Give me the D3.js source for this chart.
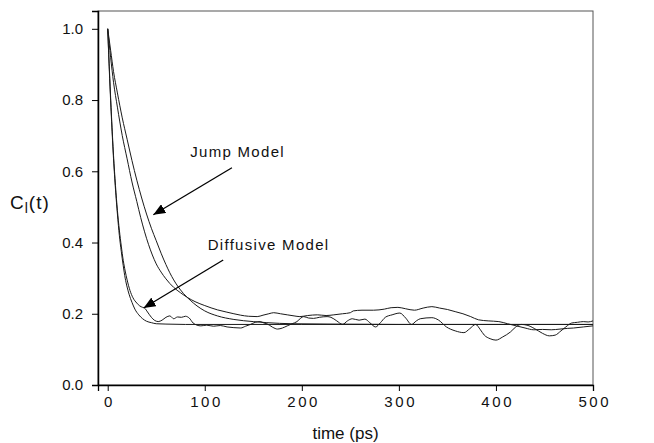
<!DOCTYPE html>
<html lang="en">
<head>
<meta charset="UTF-8">
<title>C_l(t) decay</title>
<script src="https://d3js.org/d3.v7.min.js"></script>
<style>
body { margin: 0; background: #fff; }
svg { display: block; font-family: Arial, "Liberation Sans", sans-serif; }
.tick text { font-size: 15px; fill: #111; }
</style>
</head>
<body>
<script>
// values: [time (ps), C_l(t)]
const diffusiveModel = [[0,1],[2,0.86],[4,0.74],[6,0.635],[8,0.55],[10,0.48],[12,0.42],[14,0.375],[16,0.335],[18,0.3],[20,0.275],[22,0.255],[25,0.232],[28,0.213],[32,0.197],[36,0.186],[40,0.179],[45,0.175],[50,0.172],[60,0.171],[80,0.17],[200,0.17],[500,0.17]];

const diffusiveSim = [[0,1],[2,0.87],[4,0.75],[6,0.645],[8,0.56],[10,0.49],[12,0.435],[14,0.39],[16,0.35],[18,0.32],[20,0.295],[23,0.265],[26,0.245],[30,0.23],[33,0.222],[36,0.218],[38,0.216],[41,0.205],[45,0.19],[48,0.182],[52,0.178],[56,0.182],[60,0.19],[64,0.194],[68,0.186],[72,0.191],[76,0.19],[80,0.193],[84,0.188],[88,0.174],[92,0.168],[96,0.166],[102,0.168],[109,0.165],[116,0.167],[123,0.163],[130,0.161],[137,0.16],[142,0.165],[147,0.17],[152,0.176],[157,0.178],[161,0.174],[164,0.172],[170,0.162],[175,0.157],[180,0.16],[185,0.166],[190,0.172],[195,0.178],[199,0.188],[202,0.192],[207,0.188],[212,0.187],[218,0.19],[226,0.192],[230,0.19],[236,0.18],[242,0.17],[247,0.18],[252,0.186],[259,0.182],[265,0.185],[270,0.175],[276,0.163],[281,0.175],[286,0.19],[293,0.197],[301,0.202],[307,0.188],[313,0.17],[318,0.18],[322,0.186],[334,0.189],[341,0.182],[349,0.163],[358,0.152],[367,0.147],[373,0.158],[379,0.17],[384,0.155],[388,0.14],[394,0.13],[400,0.126],[407,0.135],[415,0.149],[420,0.162],[426,0.17],[432,0.168],[440,0.158],[448,0.145],[455,0.138],[461,0.14],[467,0.152],[472,0.163],[478,0.174],[484,0.176],[490,0.178],[495,0.177],[500,0.18]];

const jumpModel = [[0,1],[3,0.94],[6,0.88],[10,0.82],[15,0.75],[20,0.69],[25,0.63],[30,0.575],[35,0.525],[40,0.48],[45,0.44],[50,0.405],[55,0.37],[60,0.338],[64,0.315],[68,0.295],[72,0.278],[78,0.257],[85,0.238],[92,0.222],[100,0.208],[113,0.194],[130,0.184],[150,0.178],[164,0.175],[190,0.172],[230,0.171],[300,0.17],[500,0.17]];

const jumpSim = [[0,1],[3,0.92],[6,0.85],[10,0.78],[15,0.7],[20,0.635],[25,0.57],[30,0.515],[34,0.47],[38,0.43],[42,0.395],[46,0.365],[50,0.34],[55,0.317],[60,0.298],[64,0.285],[68,0.274],[75,0.259],[82,0.246],[90,0.234],[100,0.223],[113,0.211],[122,0.205],[130,0.2],[137,0.196],[145,0.193],[154,0.192],[160,0.196],[166,0.2],[171,0.203],[178,0.2],[185,0.197],[192,0.194],[198,0.192],[206,0.195],[216,0.197],[225,0.195],[233,0.197],[242,0.2],[250,0.203],[253,0.208],[262,0.21],[274,0.21],[285,0.213],[292,0.217],[299,0.218],[307,0.214],[316,0.21],[325,0.216],[334,0.22],[342,0.216],[350,0.212],[358,0.206],[366,0.2],[374,0.192],[382,0.183],[392,0.18],[403,0.178],[412,0.172],[421,0.166],[430,0.16],[439,0.155],[448,0.156],[457,0.155],[466,0.157],[474,0.159],[480,0.16],[490,0.163],[500,0.166]];

const xTicks = [0, 100, 200, 300, 400, 500];
const yTicks = [0, 0.2, 0.4, 0.6, 0.8, 1.0];

// annotations: label position and arrow [from, to] in data units
const notes = [
    {text: 'Jump Model', at: [85, 0.64], from: [128, 0.61], to: [47, 0.478]},
    {text: 'Diffusive Model', at: [103, 0.379], from: [119, 0.351], to: [37, 0.216]}
];

const w = 654;
const h = 443;
const margin = {top: 11, right: 61, bottom: 58, left: 98};

const svg = d3.select('body').append('svg').attr('width', w).attr('height', h);

const x = d3.scaleLinear().domain([-10, 500]).range([margin.left, w - margin.right]);
const y = d3.scaleLinear().domain([0, 1.05]).range([h - margin.bottom, margin.top]);

svg.append('defs').append('marker')
    .attr('id', 'head').attr('viewBox', '0 0 12 10')
    .attr('refX', 12).attr('refY', 5)
    .attr('markerWidth', 12).attr('markerHeight', 10)
    .attr('markerUnits', 'userSpaceOnUse').attr('orient', 'auto')
    .append('path').attr('d', 'M0,0L12,5L0,10z').attr('fill', '#000');

// frame: top and right are lighter
svg.append('rect')
    .attr('x', margin.left).attr('y', margin.top)
    .attr('width', w - margin.left - margin.right).attr('height', h - margin.top - margin.bottom)
    .attr('fill', 'none').attr('stroke', '#555').attr('stroke-width', 1);

const xAxis = svg.append('g')
    .attr('transform', 'translate(0,' + (h - margin.bottom) + ')')
    .call(d3.axisBottom(x).tickValues(xTicks).tickSize(6).tickPadding(5).tickFormat(d3.format('d')));
xAxis.select('.domain').attr('stroke', '#000').attr('stroke-width', 1.3);
xAxis.selectAll('.tick text').style('letter-spacing', '2.6px').attr('dx', '1.3px');

const yAxis = svg.append('g')
    .attr('transform', 'translate(' + margin.left + ',0)')
    .call(d3.axisLeft(y).tickValues(yTicks).tickSize(6).tickPadding(9).tickFormat(d3.format('.1f')));
yAxis.select('.domain').attr('stroke', '#000').attr('stroke-width', 1.5);

const line = d3.line().x(d => x(d[0])).y(d => y(d[1])).curve(d3.curveMonotoneX);

[jumpSim, diffusiveSim, jumpModel, diffusiveModel].forEach(s => {
    svg.append('path').datum(s).attr('d', line)
        .attr('fill', 'none').attr('stroke', '#1a1a1a').attr('stroke-width', 1);
});

notes.forEach(n => {
    svg.append('text').attr('x', x(n.at[0])).attr('y', y(n.at[1]))
        .style('font-size', '15px').style('letter-spacing', '1.3px').attr('fill', '#111')
        .text(n.text);
    svg.append('line')
        .attr('x1', x(n.from[0])).attr('y1', y(n.from[1]))
        .attr('x2', x(n.to[0])).attr('y2', y(n.to[1]))
        .attr('stroke', '#000').attr('stroke-width', 1.3)
        .attr('marker-end', 'url(#head)');
});

svg.append('text')
    .attr('x', (margin.left + w - margin.right) / 2).attr('y', h - 4)
    .attr('text-anchor', 'middle').style('font-size', '17px').attr('fill', '#111')
    .text('time (ps)');

const yLabel = svg.append('text').attr('x', 10).attr('y', 209)
    .style('font-size', '19px').style('letter-spacing', '1px').attr('fill', '#111');
yLabel.append('tspan').text('C');
yLabel.append('tspan').attr('dy', 4).style('font-size', '14px').text('l');
yLabel.append('tspan').attr('dy', -4).text('(t)');
</script>
</body>
</html>
